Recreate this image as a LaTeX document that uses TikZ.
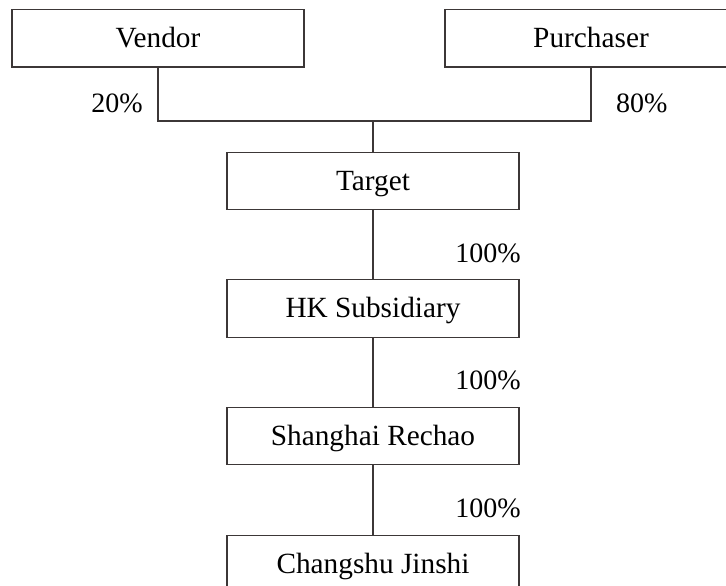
\documentclass[tikz,border=0pt]{standalone}
\usepackage{fontspec}
\setmainfont{Liberation Serif}
\definecolor{linegray}{RGB}{60,55,55}
\begin{document}
\begin{tikzpicture}[x=1pt,y=-1pt,
  entity/.style={draw=linegray,line width=1.3pt,fill=white,minimum width=292pt,minimum height=57.5pt,inner sep=0pt,
    text height=19pt,text depth=1pt,font=\fontsize{29.3}{34}\selectfont},
  pct/.style={inner sep=0pt,font=\fontsize{28}{34}\selectfont},
  link/.style={draw=linegray,line width=1.3pt}]
\useasboundingbox (0,0) rectangle (726,586);
\clip (0,0) rectangle (726,586);
\node[entity] (vendor) at (158,38.25) {Vendor};
\node[entity] (purchaser) at (591,38.25) {Purchaser};
\node[entity] (target) at (373,181) {Target};
\node[entity] (hk) at (373,308.5) {HK Subsidiary};
\node[entity] (sh) at (373,436) {Shanghai Rechao};
\node[entity] (cs) at (373,564) {Changshu Jinshi};
\coordinate (junction) at (373,121);
\draw[link] (vendor.south) |- (junction) -| (purchaser.south);
\draw[link] (junction) -- (target.north);
\draw[link] (target.south) -- (hk.north);
\draw[link] (hk.south) -- (sh.north);
\draw[link] (sh.south) -- (cs.north);
\node[pct,anchor=base east] (p20) at (143,112) {20\%};
\node[pct,anchor=base west] (p80) at (616,112) {80\%};
\node[pct,anchor=base east] (p1) at (521,262.5) {100\%};
\node[pct,anchor=base east] (p2) at (521,389.5) {100\%};
\node[pct,anchor=base east] (p3) at (521,517.5) {100\%};
\end{tikzpicture}
\end{document}
